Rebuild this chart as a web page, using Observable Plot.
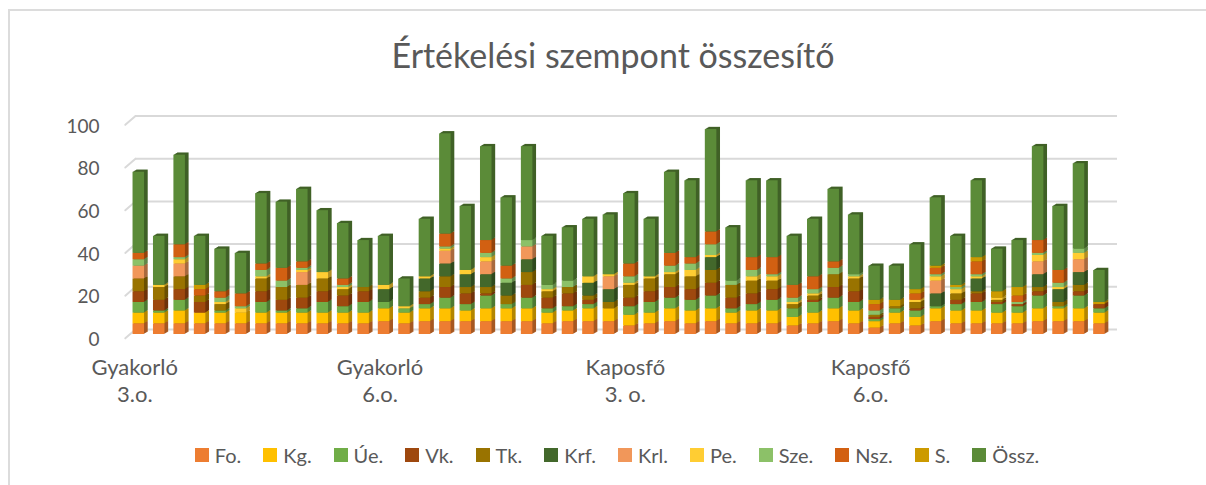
<!DOCTYPE html>
<html lang="hu">
<head>
<meta charset="utf-8">
<script src="https://cdn.jsdelivr.net/npm/d3@7"></script>
<script src="https://cdn.jsdelivr.net/npm/@observablehq/plot@0.6"></script>
<style>
  html, body { margin: 0; padding: 0; background: #fff; }
  body { width: 1206px; height: 485px; overflow: hidden; position: relative; font-family: Lato, "Open Sans", sans-serif; color: #595959; }
  #frame { position: absolute; left: 8px; top: 9px; right: -4px; bottom: -4px; border: 2px solid #dcdcdc; pointer-events: none; }
  #title { height: 100px; padding-top: 33px; box-sizing: border-box; text-align: center; font-size: 34px; line-height: 44px; padding-left: 20px; font-weight: 400; }
  #chart svg { display: block; }
  #legend { display: flex; justify-content: center; gap: 22px; font-size: 20px; line-height: 24px; padding-left: 28px; margin-top: 23px; }
  #legend span { display: inline-flex; align-items: center; gap: 6px; }
  #legend i { width: 14px; height: 14px; display: inline-block; }
</style>
</head>
<body>
<div id="frame"></div>
<div id="title">Értékelési szempont összesítő</div>
<div id="chart"></div>
<div id="legend"></div>
<script>
const seriesNames = ["Fo.","Kg.","Úe.","Vk.","Tk.","Krf.","Krl.","Pe.","Sze.","Nsz.","S.","Össz."];
const seriesColors = ["#ED7D31","#FFC000","#70AD47","#9E480E","#997300","#43682B","#F1975A","#FFCD33","#8CC168","#D26012","#CC9A00","#5B8B38"];
const yTicks = [0,20,40,60,80,100];
const groupStarts = [0,12,24,36];
const groupLabels = ["Gyakorló\n3.o.","Gyakorló\n6.o.","Kaposfő\n3. o.","Kaposfő\n6.o."];

const fo  = [5,5,5,5,5,5,5,5,5,5,5,5,6,5,6,6, 6,6,6,6,5,6,6,6,4,5,6,5,6,5,5, 5,4,5,6,5,3,5,4,6,5,5,5,5,6,6,6,5];
const kg  = [5,5,6,5,5,5,5,5,5,5,5,5,6,5,6,6, 5,6,6,6,5,5,6,6,5,5,6,6,6,5,6, 6,4,5,6,6,3,5,4,6,6,6,5,5,6,6,6,5];
const ue  = [5,1,5,0,1,0,5,1,2,5,3,5,3,2,2,5, 3,6,2,5,2,2,2,0,4,5,5,5,6,2,3, 5,4,5,5,4,1,2,3,1,3,4,4,3,6,1,6,2];
const vk  = [5,5,5,5,0,0,5,5,5,5,5,5,0,0,3,5, 5,1,0,6,5,6,2,0,4,5,5,5,6,5,5, 5,0,1,5,5,1,0,1,0,2,4,1,1,2,0,2,2];
const tk  = [6,6,6,3,3,0,6,6,6,6,3,2,0,0,3,5, 3,3,4,6,3,3,2,3,6,6,6,6,6,6,6, 4,2,2,6,6,1,1,3,0,3,1,1,0,2,2,3,0];
const krf = [0,0,0,0,0,0,0,0,0,0,0,0,6,0,6,6, 6,6,6,6,0,0,6,6,0,0,0,0,6,0,0, 0,0,0,0,0,0,0,0,6,0,6,0,0,6,6,6,0];
const krl = [6,0,6,0,0,0,0,0,6,0,0,0,0,0,0,6, 0,6,0,6,0,0,0,6,0,0,0,0,0,0,0, 0,0,0,0,0,0,0,0,6,0,0,0,0,6,0,6,0];
const pe  = [0,1,2,0,1,2,1,0,1,3,1,0,2,1,1,1, 2,2,0,0,1,0,3,1,1,1,1,3,1,0,2, 2,1,1,0,1,0,0,1,2,2,1,1,0,3,1,3,0];
const sze = [3,0,1,0,2,1,3,3,1,0,1,0,0,0,0,1, 0,2,2,3,2,3,0,0,3,0,3,3,5,2,3, 1,2,2,3,1,2,0,0,1,1,1,0,1,1,2,2,0];
const nsz = [3,0,6,3,3,6,3,6,3,0,3,0,0,0,0,6, 0,6,6,0,0,0,0,0,6,0,6,3,6,0,6, 8,6,6,3,0,3,0,3,3,0,6,0,3,6,6,0,0];
const s   = [0,0,0,2,0,0,0,0,0,0,0,0,0,0,0,0, 0,0,0,0,0,0,0,0,0,0,0,0,0,0,0, 0,0,0,0,0,2,3,2,1,1,2,3,4,0,0,0,1];
const ossz= [38,23,42,23,20,19,33,31,34,29,26,22,23,13,27,47, 30,44,32,44,23,25,27,28,33,27,38,36,48,25,36, 36,23,27,34,28,16,16,21,32,23,36,20,22,44,30,40,15];

const seriesValues = [fo,kg,ue,vk,tk,krf,krl,pe,sze,nsz,s,ossz];
const barIndex = d3.range(fo.length);
const rows = seriesValues.flatMap((vals, k) => vals.map((v, i) => ({i, v, series: seriesNames[k], k})));
const dark = seriesColors.map(c => d3.color(c).darker(1).formatHex());

// extrusion layers, back to front, give the 3D side and top faces
const depthSteps = [4,3,2,1];
const extrude = depthSteps.map(n => Plot.barY(rows, Plot.stackY({
  x: "i", y: "v", z: "series", fill: d => dark[d.k], dx: n * 0.92, dy: -n * 0.55
})));

const slant = {draw(ctx, l) { ctx.moveTo(0, 0); ctx.lineTo(0, -l); }};

const plot = Plot.plot({
  width: 1206, height: 320,
  marginTop: 20.5, marginBottom: 86, marginLeft: 135, marginRight: 89,
  style: {color: "#595959", fontFamily: "Lato, 'Open Sans', sans-serif", background: "transparent"},
  x: {domain: barIndex, type: "band", padding: 0.437, round: false, range: [123.6, 1113.6], axis: null},
  y: {domain: [0, 100], range: [234, 20.5], axis: null},
  color: {type: "identity"},
  marks: [
    Plot.ruleY(yTicks, {stroke: "#d9d9d9", strokeWidth: 2, dy: -5}),
    Plot.vector(yTicks, {x: () => 0, y: d => d, length: 13.5, rotate: -131, anchor: "start", shape: slant, r: 0,
      stroke: "#d9d9d9", strokeWidth: 2, dx: -3.3, dy: -5}),
    Plot.axisY(yTicks, {anchor: "left", tickSize: 0, tickPadding: 36, fontSize: 19, dy: 5.5, label: null}),
    Plot.axisX(groupStarts, {anchor: "bottom", tickSize: 0, tickPadding: 20.5, fontSize: 22, lineHeight: 1.25, dx: -4, label: null,
      tickFormat: i => groupLabels[groupStarts.indexOf(i)]}),
    ...extrude,
    Plot.barY(rows, Plot.stackY({x: "i", y: "v", z: "series", fill: d => seriesColors[d.k]}))
  ]
});
document.getElementById("chart").append(plot);

const legend = document.getElementById("legend");
seriesNames.forEach((name, k) => {
  const item = document.createElement("span");
  const sw = document.createElement("i");
  sw.style.background = seriesColors[k];
  item.append(sw, name);
  legend.append(item);
});
</script>
</body>
</html>
